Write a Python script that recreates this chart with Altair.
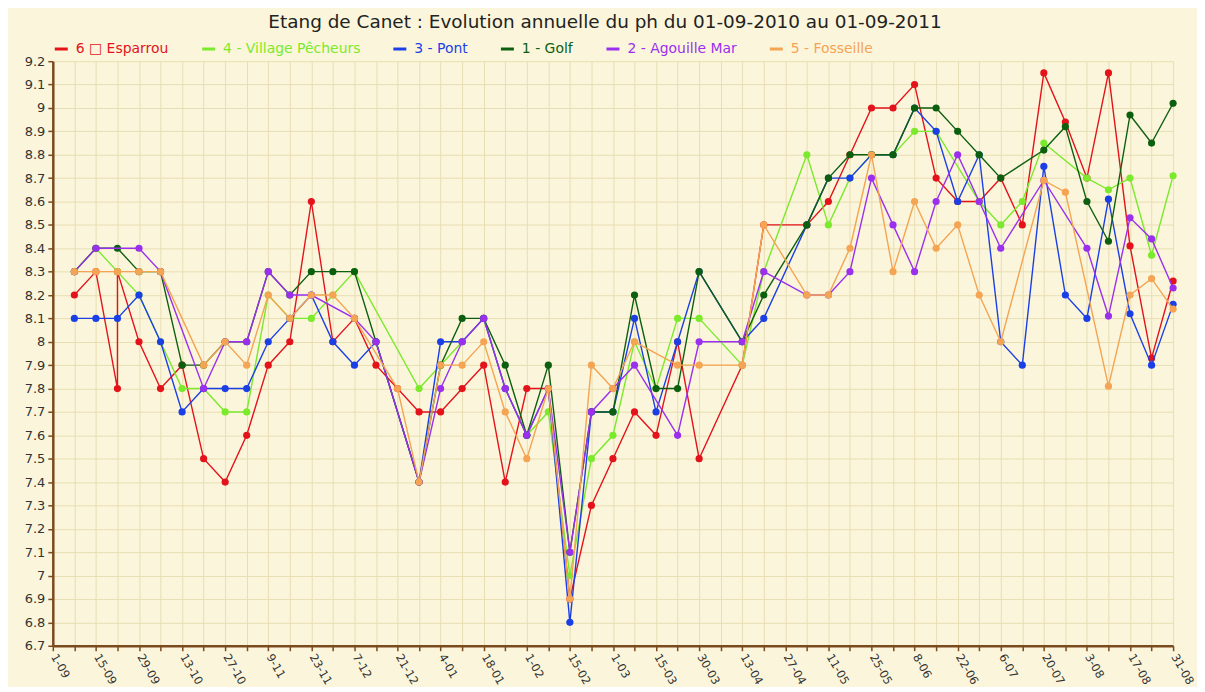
import json
import altair as alt
import pandas as pd

chart_title = "Etang de Canet : Evolution annuelle du ph du 01-09-2010 au 01-09-2011"

series_names = ["6 □ Esparrou", "4 - Village Pêcheurs", "3 - Pont",
                "1 - Golf", "2 - Agouille Mar", "5 - Fosseille"]
series_colors = ["#e4131b", "#7be92c", "#1b3fe6", "#0d5f10", "#9a30ee", "#f4a452"]

# x tick labels, one every two weeks from 1-09-2010
tick_labels = ["1-09", "15-09", "29-09", "13-10", "27-10", "9-11", "23-11", "7-12",
               "21-12", "4-01", "18-01", "1-02", "15-02", "1-03", "15-03", "30-03",
               "13-04", "27-04", "11-05", "25-05", "8-06", "22-06", "6-07", "20-07",
               "3-08", "17-08", "31-08"]
y_ticks = [6.7, 6.8, 6.9, 7.0, 7.1, 7.2, 7.3, 7.4, 7.5, 7.6, 7.7, 7.8, 7.9, 8.0,
           8.1, 8.2, 8.3, 8.4, 8.5, 8.6, 8.7, 8.8, 8.9, 9.0, 9.1, 9.2]

# sampling week (weeks after 01-09-2010) and pH value, per station
esparrou_week = [1, 2, 3, 3, 4, 5, 6, 7, 8, 9, 10, 11, 12, 13, 14, 15, 16, 17, 18, 19,
                 20, 21, 22, 23, 24, 25, 26, 27, 28, 29, 30, 32, 33, 35, 36, 37, 38, 39,
                 40, 41, 42, 43, 44, 45, 46, 47, 48, 49, 50, 51, 52]
esparrou_ph = [8.2, 8.3, 7.8, 8.3, 8.0, 7.8, 7.9, 7.5, 7.4, 7.6, 7.9, 8.0, 8.6, 8.0,
               8.1, 7.9, 7.8, 7.7, 7.7, 7.8, 7.9, 7.4, 7.8, 7.8, 6.9, 7.3, 7.5, 7.7,
               7.6, 8.0, 7.5, 7.9, 8.5, 8.5, 8.6, 8.8, 9.0, 9.0, 9.1, 8.7, 8.6, 8.6,
               8.7, 8.5, 9.15, 8.94, 8.7, 9.15, 8.41, 7.93, 8.26]

village_week = [1, 2, 3, 4, 5, 6, 7, 8, 9, 10, 11, 12, 13, 14, 17, 18, 19, 20, 21, 22,
                23, 24, 25, 26, 27, 28, 29, 30, 32, 33, 35, 36, 37, 38, 39, 40, 41, 43,
                44, 45, 46, 48, 49, 50, 51, 52]
village_ph = [8.3, 8.4, 8.3, 8.2, 8.0, 7.8, 7.8, 7.7, 7.7, 8.2, 8.1, 8.1, 8.2, 8.3,
              7.8, 7.9, 8.0, 8.1, 7.8, 7.6, 7.7, 7.0, 7.5, 7.6, 8.0, 7.8, 8.1, 8.1,
              7.9, 8.3, 8.8, 8.5, 8.7, 8.8, 8.8, 8.9, 8.9, 8.6, 8.5, 8.6, 8.85, 8.7,
              8.65, 8.7, 8.37, 8.71]

pont_week = [1, 2, 3, 4, 5, 6, 7, 8, 9, 10, 11, 12, 13, 14, 15, 17, 18, 19, 20, 21,
             22, 23, 24, 25, 26, 27, 28, 29, 30, 32, 33, 35, 36, 37, 38, 39, 40, 41,
             42, 43, 44, 45, 46, 47, 48, 49, 50, 51, 52]
pont_ph = [8.1, 8.1, 8.1, 8.2, 8.0, 7.7, 7.8, 7.8, 7.8, 8.0, 8.1, 8.2, 8.0, 7.9,
           8.0, 7.4, 8.0, 8.0, 8.1, 7.8, 7.6, 7.8, 6.8, 7.7, 7.7, 8.1, 7.7, 8.0,
           8.3, 8.0, 8.1, 8.5, 8.7, 8.7, 8.8, 8.8, 9.0, 8.9, 8.6, 8.8, 8.0, 7.9,
           8.75, 8.2, 8.1, 8.61, 8.12, 7.9, 8.16]

golf_week = [1, 2, 3, 4, 5, 6, 7, 8, 9, 10, 11, 12, 13, 14, 15, 17, 18, 19, 20, 21,
             22, 23, 24, 25, 26, 27, 28, 29, 30, 32, 33, 35, 36, 37, 38, 39, 40, 41,
             42, 43, 44, 46, 47, 48, 49, 50, 51, 52]
golf_ph = [8.3, 8.4, 8.4, 8.3, 8.3, 7.9, 7.9, 8.0, 8.0, 8.3, 8.2, 8.3, 8.3, 8.3,
           8.0, 7.4, 7.9, 8.1, 8.1, 7.9, 7.6, 7.9, 7.1, 7.7, 7.7, 8.2, 7.8, 7.8,
           8.3, 8.0, 8.2, 8.5, 8.7, 8.8, 8.8, 8.8, 9.0, 9.0, 8.9, 8.8, 8.7, 8.82,
           8.92, 8.6, 8.43, 8.97, 8.85, 9.02]

agouille_week = [1, 2, 4, 5, 7, 8, 9, 10, 11, 12, 14, 15, 17, 18, 19, 20, 21, 22, 23,
                 24, 25, 26, 27, 29, 30, 32, 33, 35, 36, 37, 38, 39, 40, 41, 42, 43,
                 44, 46, 48, 49, 50, 51, 52]
agouille_ph = [8.3, 8.4, 8.4, 8.3, 7.8, 8.0, 8.0, 8.3, 8.2, 8.2, 8.1, 8.0, 7.4, 7.8,
               8.0, 8.1, 7.8, 7.6, 7.8, 7.1, 7.7, 7.8, 7.9, 7.6, 8.0, 8.0, 8.3, 8.2,
               8.2, 8.3, 8.7, 8.5, 8.3, 8.6, 8.8, 8.6, 8.4, 8.69, 8.4, 8.11, 8.53,
               8.44, 8.23]

fosseille_week = [1, 2, 3, 4, 5, 7, 8, 9, 10, 11, 12, 13, 14, 16, 17, 18, 19, 20, 21,
                  22, 23, 24, 25, 26, 27, 29, 30, 32, 33, 35, 36, 37, 38, 39, 40, 41,
                  42, 43, 44, 46, 47, 49, 50, 51, 52]
fosseille_ph = [8.3, 8.3, 8.3, 8.3, 8.3, 7.9, 8.0, 7.9, 8.2, 8.1, 8.2, 8.2, 8.1, 7.8,
                7.4, 7.9, 7.9, 8.0, 7.7, 7.5, 7.8, 6.9, 7.9, 7.8, 8.0, 7.9, 7.9, 7.9,
                8.5, 8.2, 8.2, 8.4, 8.8, 8.3, 8.6, 8.4, 8.5, 8.2, 8.0, 8.69, 8.64,
                7.81, 8.2, 8.27, 8.14]

weeks = [esparrou_week, village_week, pont_week, golf_week, agouille_week, fosseille_week]
values = [esparrou_ph, village_ph, pont_ph, golf_ph, agouille_ph, fosseille_ph]

rows = []
for name, wk, ph in zip(series_names, weeks, values):
    for i, (w, v) in enumerate(zip(wk, ph)):
        rows.append({"station": name, "day": w * 7, "ph": v, "seq": i})
df = pd.DataFrame(rows)

AXIS_BROWN = "#7b4a1e"
FONT = "DejaVu Sans"

label_expr = ("datum.value % 14 == 0 ? " + json.dumps(tick_labels, ensure_ascii=False)
              + "[datum.value / 14] : ''")

x_enc = alt.X("day:Q",
              scale=alt.Scale(domain=[0, 364], nice=False, zero=False),
              axis=alt.Axis(values=list(range(0, 365, 7)), labelExpr=label_expr,
                            labelAngle=60, labelAlign="left", labelBaseline="middle",
                            labelOverlap=False, labelBound=False, labelFontSize=11.5,
                            labelPadding=4, title=None, tickSize=5))
y_enc = alt.Y("ph:Q",
              scale=alt.Scale(domain=[6.7, 9.2], nice=False, zero=False),
              axis=alt.Axis(values=y_ticks, format=".1~f", title=None, tickSize=5,
                            labelFontSize=13, labelPadding=3))

color_scale = alt.Scale(domain=series_names, range=series_colors)
label_color_expr = " : ".join(
    f"datum.label == {json.dumps(n, ensure_ascii=False)} ? '{c}'"
    for n, c in zip(series_names, series_colors)) + " : '#333'"

legend = alt.Legend(title=None, orient="none", legendX=0, legendY=-21,
                    direction="horizontal", symbolType="stroke", symbolStrokeWidth=3,
                    symbolSize=170, labelFontSize=14, labelFont=FONT,
                    columnPadding=26, labelOffset=6,
                    labelColor={"expr": label_color_expr})

base = alt.Chart(df)
layers = []
for idx, name in enumerate(series_names):
    sub = base.transform_filter(alt.datum.station == name)
    line = sub.mark_line(strokeWidth=1.4).encode(
        x=x_enc, y=y_enc,
        color=alt.Color("station:N", scale=color_scale,
                        legend=legend if idx == 0 else None),
        order=alt.Order("seq:Q"))
    pts = sub.mark_circle(size=52, opacity=1).encode(
        x=x_enc, y=y_enc,
        color=alt.Color("station:N", scale=color_scale, legend=None))
    layers += [line, pts]

chart = alt.layer(*layers).properties(
    width=1125, height=587,
    autosize=alt.AutoSizeParams(type="none"),
    padding={"left": 45, "top": 52, "right": 24, "bottom": 40},
    title=alt.TitleParams(chart_title, anchor="middle", frame="group", fontSize=18.5,
                          font=FONT, fontWeight="normal", color="#222", offset=9,
                          dx=-8),
    background="#fbf6db",
).configure_view(stroke=None).configure_axis(
    domainColor=AXIS_BROWN, domainWidth=2.5, tickColor=AXIS_BROWN, tickWidth=1.5,
    gridColor="#e8deb2", gridWidth=1, gridOpacity=1, labelColor="#333",
    labelFont=FONT,
)

chart.save("out.html", embed_options={"renderer": "svg", "actions": False})
